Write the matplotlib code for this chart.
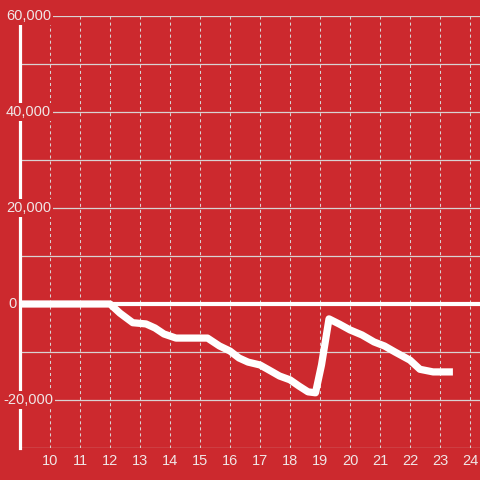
import matplotlib.pyplot as plt

# hour of day vs. cumulative value
hours = [9.0, 12.0, 12.33, 12.76, 13.2, 13.5, 13.8, 14.2, 15.25, 15.65, 16.0, 16.3,
         16.6, 17.0, 17.3, 17.65, 18.0, 18.3, 18.6, 18.85, 19.05, 19.3, 19.65,
         20.0, 20.4, 20.8, 21.15, 21.5, 22.0, 22.33, 22.77, 23.43]
values = [0, 0, -1900, -3900, -4150, -5000, -6250, -7100, -7100, -8750, -9800, -11250,
          -12100, -12700, -13750, -15000, -15800, -17100, -18300, -18500, -12700, -3100, -4200,
          -5400, -6450, -7900, -8750, -10000, -11700, -13600, -14150, -14150]

xticks = list(range(10, 25))
ylabels = {60000: "60,000", 40000: "40,000", 20000: "20,000", 0: "0", -20000: "-20,000"}
ylabel_x = {60000: 6, 40000: 6, 20000: 6, 0: 8, -20000: 3}  # left edge, px

RED = "#cc292e"
TXT = "#f0e6e6"
GRID = "#d9d2d2"

fig = plt.figure(figsize=(4.8, 4.8), dpi=100, facecolor=RED)
ax = fig.add_axes([20 / 480, 32 / 480, 460 / 480, 432 / 480])
ax.set_facecolor(RED)
ax.set_xlim(9, 24.333)
ax.set_ylim(-30000, 60000)

for s in ["top", "right", "bottom"]:
    ax.spines[s].set_visible(False)
ax.spines["left"].set_color("white")
ax.spines["left"].set_linewidth(2.3)
ax.spines["left"].set_zorder(3)

# grid
for y in range(-30000, 60001, 10000):
    ax.axhline(y, color=GRID, lw=0.9, zorder=1)
ax.vlines(xticks, -30000, 60000, colors=GRID, lw=0.75, linestyles=(0, (2.9, 2.9)), zorder=1)

# zero line
ax.axhline(0, color="white", lw=3, zorder=2)

ax.plot(hours, values, color="white", lw=5.2, solid_joinstyle="round",
        solid_capstyle="butt", zorder=4)

ax.set_xticks(xticks)
ax.set_xticklabels([str(h) for h in xticks], family="Liberation Sans", fontsize=10.5, color=TXT)
ax.tick_params(axis="x", length=0, pad=4)
ax.set_yticks([])

for y, lab in ylabels.items():
    px = ylabel_x[y]
    ax.text(px / 480, y, lab, transform=ax.get_yaxis_transform().__class__(fig.transFigure, ax.transData),
            ha="left", va="center", family="Liberation Sans", fontsize=10.5, color=TXT, zorder=5,
            bbox=dict(facecolor=RED, edgecolor="none", pad=1.5))

fig.savefig("out.png", dpi=100, facecolor=RED)
